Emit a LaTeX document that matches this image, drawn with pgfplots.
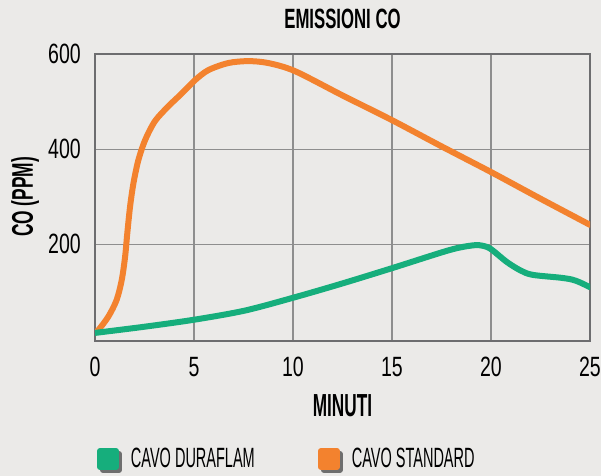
\documentclass[border=0pt]{standalone}
\usepackage{fontspec}
\usepackage{pgfplots}
\pgfplotsset{compat=1.18}
\setmainfont{Liberation Sans}
\newfontfamily\tickf{Liberation Sans}[FakeStretch=0.7]
\newfontfamily\legf{Liberation Sans}[FakeStretch=0.52]
\newfontfamily\titf{Liberation Sans}[FakeStretch=0.6]
\newfontfamily\xlabf{Liberation Sans}[FakeStretch=0.54]
\newfontfamily\ylabf{Liberation Sans}[FakeStretch=0.58]
\definecolor{bgc}{HTML}{EBEAE8}
\definecolor{gridc}{HTML}{8E8E8E}
\definecolor{axc}{HTML}{6D6D6F}
\definecolor{orangeC}{HTML}{F3822E}
\definecolor{greenC}{HTML}{16AE7C}
\definecolor{shadowC}{HTML}{6E6E6E}
\begin{document}
\begin{tikzpicture}
\fill[bgc] (0,0) rectangle (601bp,476bp);
\useasboundingbox (0,0) rectangle (601bp,476bp);
\begin{axis}[
  at={(95bp,135bp)}, anchor=south west,
  scale only axis, width=495bp, height=287bp,
  xmin=0, xmax=25, ymin=-3, ymax=600,
  xtick={0,5,10,15,20,25}, ytick={200,400,600},
  major tick length=0pt,
  grid=major,
  major grid style={draw=gridc, line width=1.1bp},
  axis line style={draw=axc, line width=1.4bp},
  /pgf/number format/assume math mode=true,
  tick label style={font=\tickf\fontsize{28}{30}\selectfont, text=black},
  yticklabel style={inner sep=0pt, anchor=east, xshift=-14bp},
  xticklabel style={inner sep=0pt, anchor=north, yshift=-16bp},
  title={EMISSIONI CO},
  title style={font=\titf\bfseries\fontsize{28}{30}\selectfont, at={(axis description cs:0.5,1.0697)}, anchor=base, inner sep=0pt},
  xlabel={MINUTI},
  xlabel style={font=\xlabf\bfseries\fontsize{32}{34}\selectfont, at={(axis description cs:0.5,-0.2648)}, anchor=base, inner sep=0pt},
  ylabel={CO (PPM)},
  ylabel style={font=\ylabf\bfseries\fontsize{30}{32}\selectfont, at={(axis description cs:-0.1253,0.502)}, anchor=base, inner sep=0pt},
  legend columns=2,
  reverse legend,
  legend style={at={(axis description cs:0.004,-0.3728)}, anchor=north west, draw=none, fill=none, inner sep=0pt, outer sep=0pt,
    font=\legf\fontsize{28}{30}\selectfont,
    nodes={inner sep=0pt, text height=20bp, text depth=0pt},
    /tikz/every odd column/.append style={column sep=9bp},
    /tikz/every even column/.append style={column sep=63bp}},
]
\addplot[orangeC, line width=6bp, smooth, line join=round, line cap=round,
  legend image code/.code={\fill[shadowC] (3bp,-12bp) rectangle (19bp,4bp); \fill[orangeC] (0bp,-9bp) rectangle (16bp,7bp);}]
coordinates {
(0,14) (0.17,20) (0.67,48) (1.09,83) (1.35,125) (1.52,174) (1.63,223) (1.77,279) (1.94,328) (2.19,377) (2.53,419) (3.03,459) (3.7,490) (4.38,517) (5.05,545) (5.72,566) (6.73,581) (7.74,585) (8.75,581) (10.1,564) (12.5,513) (15,461) (17.5,406) (20,352) (22.5,296) (25,241)
};
\addlegendentry{CAVO STANDARD}
\addplot[greenC, line width=6bp, smooth, line join=round, line cap=round,
  legend image code/.code={\fill[shadowC] (3bp,-12bp) rectangle (19bp,4bp); \fill[greenC] (0bp,-9bp) rectangle (16bp,7bp);}]
coordinates {
(0,14) (2.5,27) (5.05,42) (7.58,61) (10.1,89) (12.5,118) (15,150) (17.9,188) (19.1,198) (19.6,197) (20,190) (20.8,163) (21.5,145) (22.1,136) (23.5,130) (24.1,126) (24.5,120) (25,110)
};
\addlegendentry{CAVO DURAFLAM}
\end{axis}
\end{tikzpicture}
\end{document}
